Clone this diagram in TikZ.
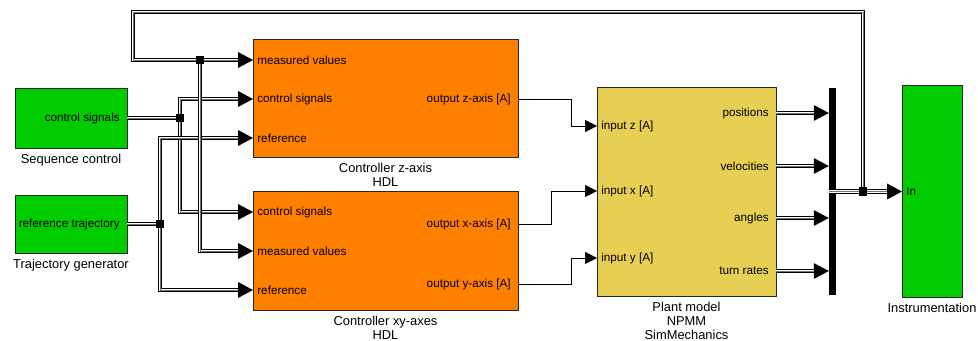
\documentclass[tikz,border=0pt]{standalone}
\usepackage{fontspec}
\setmainfont{Liberation Sans}
\usepackage{tikz}
\usetikzlibrary{arrows.meta}

\definecolor{blockgreen}{RGB}{0,204,0}
\definecolor{blockorange}{RGB}{255,128,0}
\definecolor{plantyellow}{RGB}{230,207,82}

\tikzset{
    block/.style={draw=black!85, line width=0.6pt, inner sep=0pt},
    port/.style={inner ysep=0pt, font=\fontsize{10}{12}\selectfont},
    inport/.style={port, anchor=west, inner xsep=3.5pt},
    outport/.style={port, anchor=east, inner xsep=6pt},
    caption/.style={align=center, anchor=north, inner sep=1.5pt, yshift=-3.5pt, font=\fontsize{11}{12}\selectfont},
    busline/.style={draw=black, line width=4pt,
        postaction={draw=white, line width=2.4pt},
        postaction={draw=black!55, line width=0.7pt}},
    bus/.style={draw=black, line width=4pt,
        -{Triangle[length=0.45cm, width=0.48cm, line width=0pt]},
        postaction={draw=white, line width=2.4pt, -, shorten >=0.45cm},
        postaction={draw=black!55, line width=0.7pt, -, shorten >=0.45cm}},
    sig/.style={draw=black, line width=0.6pt, -{Triangle[length=0.36cm, width=0.36cm]}},
    junction/.style={fill=black, inner sep=0pt, minimum size=0.24cm}}

\begin{document}
\begin{tikzpicture}[x=0.03cm, y=-0.03cm]

    \useasboundingbox (0,0) rectangle (978,341);

    % blocks
    \node[block, fill=blockgreen, minimum width=3.36cm, minimum height=1.8cm] (seq) at (71,118) {};
    \node[block, fill=blockgreen, minimum width=3.36cm, minimum height=1.74cm] (traj) at (71,224) {};
    \node[block, fill=blockorange, minimum width=7.95cm, minimum height=3.54cm] (zctrl) at (385.5,98) {};
    \node[block, fill=blockorange, minimum width=7.95cm, minimum height=3.57cm] (xyctrl) at (385.5,250.5) {};
    \node[block, fill=plantyellow, minimum width=5.37cm, minimum height=6.27cm] (plant) at (686.5,191.5) {};
    \node[fill=black, inner sep=0pt, minimum width=0.21cm, minimum height=6.21cm] (bar) at (832.5,191.5) {};
    \node[block, fill=blockgreen, minimum width=1.8cm, minimum height=6.36cm] (instr) at (932,191) {};

    \node[caption] at (seq.south) {Sequence control};
    \node[caption] at (traj.south) {Trajectory generator};
    \node[caption] at (zctrl.south) {Controller z-axis\\HDL};
    \node[caption] at (xyctrl.south) {Controller xy-axes\\HDL};
    \node[caption] at (plant.south) {Plant model\\NPMM\\SimMechanics};
    \node[caption] at (instr.south) {Instrumentation};

    % ports
    \node[outport] (seqout) at (127,118) {control signals};
    \node[outport] (trajout) at (127,224) {reference trajectory};

    \node[inport] (zmv) at (253,60) {measured values};
    \node[inport] (zcs) at (253,99) {control signals};
    \node[inport] (zref) at (253,138) {reference};
    \node[outport] (zout) at (518,99) {output z-axis [A]};

    \node[inport] (xycs) at (253,212) {control signals};
    \node[inport] (xymv) at (253,251) {measured values};
    \node[inport] (xyref) at (253,290) {reference};
    \node[outport] (xout) at (518,224) {output x-axis [A]};
    \node[outport] (yout) at (518,284) {output y-axis [A]};

    \node[inport] (inz) at (597,126) {input z [A]};
    \node[inport] (inx) at (597,191) {input x [A]};
    \node[inport] (iny) at (597,258) {input y [A]};
    \node[outport] (pos) at (776,113) {positions};
    \node[outport] (vel) at (776,166) {velocities};
    \node[outport] (ang) at (776,218) {angles};
    \node[outport] (turn) at (776,271) {turn rates};

    \node[inport] (in) at (902,191.5) {In};

    % branch points
    \coordinate (top) at (133,12);

    % buses on the left
    \draw[busline] (seqout.east) -- (180,118) coordinate (j2);
    \draw[bus] (j2) |- (zcs.west);
    \draw[bus] (j2) |- (xycs.west);
    \draw[busline] (trajout.east) -- (160,224) coordinate (j3);
    \draw[bus] (j3) |- (zref.west);
    \draw[bus] (j3) |- (xyref.west);

    % feedback
    \draw[busline] (bar.west) -- (863,191.5) coordinate (j4);
    \draw[bus] (j4) -- (in.west);
    \draw[busline] (j4) |- (top) |- (200,60) coordinate (j1);
    \draw[bus] (j1) -- (zmv.west);
    \draw[bus] (j1) |- (xymv.west);

    \foreach \j in {j1,j2,j3,j4}
        \node[junction] at (\j) {};

    % controller outputs
    \draw[sig] (zout.east) -- ++(53,0) |- (inz.west);
    \draw[sig] (xout.east) -- ++(33,0) |- (inx.west);
    \draw[sig] (yout.east) -- ++(53,0) |- (iny.west);

    % plant outputs
    \draw[bus] (pos.east) -- (pos.east -| bar.west);
    \draw[bus] (vel.east) -- (vel.east -| bar.west);
    \draw[bus] (ang.east) -- (ang.east -| bar.west);
    \draw[bus] (turn.east) -- (turn.east -| bar.west);

\end{tikzpicture}
\end{document}
